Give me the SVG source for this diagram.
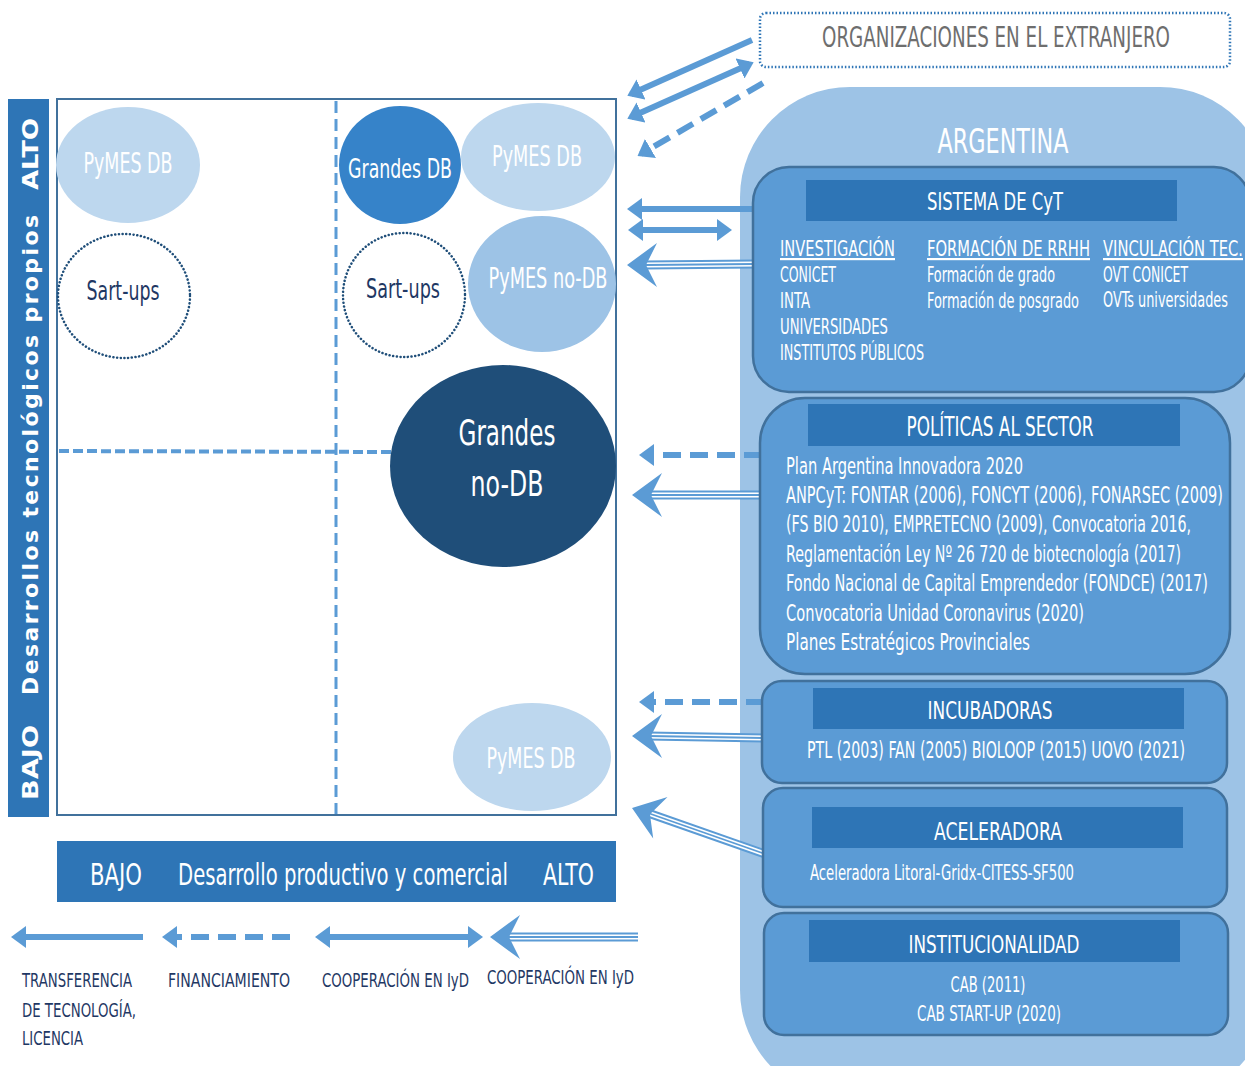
<svg xmlns="http://www.w3.org/2000/svg" xmlns:xlink="http://www.w3.org/1999/xlink" width="1245" height="1066" viewBox="0 0 1245 1066">
<style>
.cn{font-family:"Liberation Sans Narrow","DejaVu Sans Condensed","Liberation Sans",sans-serif;fill:#fff}
.w{fill:#fff}
.dk{fill:#1f3864}
.gr{fill:#6e6e6e}
.ax{font-family:"DejaVu Sans","Liberation Sans",sans-serif;font-weight:bold;fill:#fff}
.box{fill:#5b9bd5;stroke:#41719c;stroke-width:2.5}
.hdr{fill:#2e75b6}
.lt{fill:#bdd7ee}
.dot{fill:#fff;stroke:#1f4e79;stroke-width:2.5;stroke-dasharray:0.1 3.6;stroke-linecap:round}
.ar{fill:none;stroke:#5b9bd5;stroke-width:6}
.ds{stroke-dasharray:18 9}
.t1{fill:none;stroke:#5b9bd5;stroke-width:9}
.t2{fill:none;stroke:#fff;stroke-width:5}
.t3{fill:none;stroke:#5b9bd5;stroke-width:1.8}
</style>
<defs>
<marker id="ah" markerUnits="userSpaceOnUse" markerWidth="15" markerHeight="22" viewBox="0 0 15 22" refX="11" refY="11" orient="auto-start-reverse">
<path d="M0,0 L15,11 L0,22 Z" fill="#5b9bd5"/>
</marker>
<path id="th" d="M0,0 L30,-22 L19,0 L30,22 Z" fill="#5b9bd5"/>
</defs>
<rect width="1245" height="1066" fill="#fff"/>

<!-- Argentina panel -->
<g id="argentina">
<rect x="740" y="87" width="530" height="1013" rx="110" ry="110" fill="#9dc3e6"/>
<text class="cn" x="1003" y="153" font-size="33" text-anchor="middle" textLength="131" lengthAdjust="spacingAndGlyphs">ARGENTINA</text>
</g>

<!-- Organizaciones -->
<g id="org">
<rect x="760" y="13" width="470" height="54" rx="6" fill="#fff" stroke="#2e75b6" stroke-width="2.5" stroke-dasharray="1.5 2"/>
<text class="cn gr" x="996" y="47" font-size="28" text-anchor="middle" textLength="348" lengthAdjust="spacingAndGlyphs">ORGANIZACIONES EN EL EXTRANJERO</text>
</g>

<!-- Connectors -->
<g id="connectors">
<path class="ar" stroke-width="5" d="M752,40 L631,94" marker-end="url(#ah)"/>
<path class="ar" stroke-width="5" d="M631,117 L750,64" marker-start="url(#ah)" marker-end="url(#ah)"/>
<path class="ar ds" stroke-width="5" d="M763,83 L641,154" marker-end="url(#ah)"/>
<path class="ar" d="M755,209 L631,209" marker-end="url(#ah)"/>
<path class="ar" d="M632,230 L728,230" marker-start="url(#ah)" marker-end="url(#ah)"/>
<path class="t1" d="M755,264 L645,265"/><path class="t2" d="M755,264 L645,265"/><path class="t3" d="M755,264 L645,265"/>
<use xlink:href="#th" transform="translate(627,265)"/>
<path class="ar ds" d="M762,455 L643,455" marker-end="url(#ah)"/>
<path class="t1" d="M762,495 L648,495"/><path class="t2" d="M762,495 L648,495"/><path class="t3" d="M762,495 L648,495"/>
<use xlink:href="#th" transform="translate(632,495)"/>
<path class="ar ds" d="M764,702 L643,702" marker-end="url(#ah)"/>
<path class="t1" d="M764,738 L648,736"/><path class="t2" d="M764,738 L648,736"/><path class="t3" d="M764,738 L648,736"/>
<use xlink:href="#th" transform="translate(632,736)"/>
<path class="t1" d="M765,854 L648,813"/><path class="t2" d="M765,854 L648,813"/><path class="t3" d="M765,854 L648,813"/>
<use xlink:href="#th" transform="translate(632,808) rotate(19)"/>
<!-- legend arrows -->
<path class="ar" d="M143,937 L15,937" marker-end="url(#ah)"/>
<path class="ar ds" d="M290,937 L166,937" marker-end="url(#ah)"/>
<path class="ar" d="M319,937 L479,937" marker-start="url(#ah)" marker-end="url(#ah)"/>
<path class="t1" d="M638,937 L506,937"/><path class="t2" d="M638,937 L506,937"/><path class="t3" d="M638,937 L506,937"/>
<use xlink:href="#th" transform="translate(490,937)"/>
</g>

<!-- Sistema de CyT -->
<g id="sistema">
<rect class="box" x="753" y="167" width="497" height="225" rx="36"/>
<rect class="hdr" x="806" y="180" width="371" height="41"/>
<text class="cn" x="995" y="210" font-size="25" text-anchor="middle" textLength="136" lengthAdjust="spacingAndGlyphs">SISTEMA DE CyT</text>
<g class="cn" font-size="22">
<text x="780" y="256" text-decoration="underline" textLength="115" lengthAdjust="spacingAndGlyphs">INVESTIGACIÓN</text>
<text x="780" y="282" textLength="56" lengthAdjust="spacingAndGlyphs">CONICET</text>
<text x="780" y="308" textLength="30" lengthAdjust="spacingAndGlyphs">INTA</text>
<text x="780" y="334" textLength="108" lengthAdjust="spacingAndGlyphs">UNIVERSIDADES</text>
<text x="780" y="360" textLength="144" lengthAdjust="spacingAndGlyphs">INSTITUTOS PÚBLICOS</text>
<text x="927" y="256" text-decoration="underline" textLength="163" lengthAdjust="spacingAndGlyphs">FORMACIÓN DE RRHH</text>
<text x="927" y="282" textLength="128" lengthAdjust="spacingAndGlyphs">Formación de grado</text>
<text x="927" y="308" textLength="152" lengthAdjust="spacingAndGlyphs">Formación de posgrado</text>
<text x="1103" y="256" text-decoration="underline" textLength="140" lengthAdjust="spacingAndGlyphs">VINCULACIÓN TEC.</text>
<text x="1103" y="282" textLength="85" lengthAdjust="spacingAndGlyphs">OVT CONICET</text>
<text x="1103" y="307" textLength="125" lengthAdjust="spacingAndGlyphs">OVTs universidades</text>
</g>
</g>

<!-- Politicas -->
<g id="politicas">
<rect class="box" x="760" y="398" width="470" height="276" rx="45"/>
<rect class="hdr" x="808" y="404" width="372" height="42"/>
<text class="cn" x="1000" y="436" font-size="26" text-anchor="middle" textLength="187" lengthAdjust="spacingAndGlyphs">POLÍTICAS AL SECTOR</text>
<g class="cn" font-size="23">
<text x="786" y="474" textLength="237" lengthAdjust="spacingAndGlyphs">Plan Argentina Innovadora 2020</text>
<text x="786" y="503" textLength="437" lengthAdjust="spacingAndGlyphs">ANPCyT: FONTAR (2006), FONCYT (2006), FONARSEC (2009)</text>
<text x="786" y="532" textLength="405" lengthAdjust="spacingAndGlyphs">(FS BIO 2010), EMPRETECNO (2009), Convocatoria 2016,</text>
<text x="786" y="562" textLength="395" lengthAdjust="spacingAndGlyphs">Reglamentación Ley Nº 26 720 de biotecnología (2017)</text>
<text x="786" y="591" textLength="422" lengthAdjust="spacingAndGlyphs">Fondo Nacional de Capital Emprendedor (FONDCE) (2017)</text>
<text x="786" y="621" textLength="298" lengthAdjust="spacingAndGlyphs">Convocatoria Unidad Coronavirus (2020)</text>
<text x="786" y="650" textLength="244" lengthAdjust="spacingAndGlyphs">Planes Estratégicos Provinciales</text>
</g>
</g>

<!-- Incubadoras -->
<g id="incubadoras">
<rect class="box" x="762" y="681" width="465" height="102" rx="20"/>
<rect class="hdr" x="813" y="688" width="371" height="41"/>
<text class="cn" x="990" y="719" font-size="25" text-anchor="middle" textLength="125" lengthAdjust="spacingAndGlyphs">INCUBADORAS</text>
<text class="cn" x="996" y="758" font-size="23" text-anchor="middle" textLength="378" lengthAdjust="spacingAndGlyphs">PTL (2003) FAN (2005) BIOLOOP (2015) UOVO (2021)</text>
</g>

<!-- Aceleradora -->
<g id="aceleradora">
<rect class="box" x="763" y="788" width="464" height="119" rx="20"/>
<rect class="hdr" x="812" y="807" width="371" height="41"/>
<text class="cn" x="998" y="840" font-size="25" text-anchor="middle" textLength="128" lengthAdjust="spacingAndGlyphs">ACELERADORA</text>
<text class="cn" x="810" y="880" font-size="21" textLength="264" lengthAdjust="spacingAndGlyphs">Aceleradora Litoral-Gridx-CITESS-SF500</text>
</g>

<!-- Institucionalidad -->
<g id="institucionalidad">
<rect class="box" x="764" y="913" width="464" height="122" rx="20"/>
<rect class="hdr" x="809" y="920" width="371" height="42"/>
<text class="cn" x="994" y="953" font-size="25" text-anchor="middle" textLength="171" lengthAdjust="spacingAndGlyphs">INSTITUCIONALIDAD</text>
<text class="cn" x="988" y="992" font-size="22" text-anchor="middle" textLength="75" lengthAdjust="spacingAndGlyphs">CAB (2011)</text>
<text class="cn" x="989" y="1021" font-size="22" text-anchor="middle" textLength="144" lengthAdjust="spacingAndGlyphs">CAB START-UP (2020)</text>
</g>

<!-- Matrix -->
<g id="matrix">
<rect x="57" y="99" width="559" height="716" fill="#fff" stroke="#41719c" stroke-width="2"/>
<line x1="336" y1="101" x2="336" y2="814" stroke="#5b9bd5" stroke-width="3" stroke-dasharray="12 6"/>
<line x1="59" y1="451" x2="395" y2="452" stroke="#5b9bd5" stroke-width="4" stroke-dasharray="10 4"/>
</g>

<!-- Left axis -->
<g id="eje-y">
<rect x="8" y="99" width="41" height="718" fill="#2e75b6"/>
<g transform="translate(38,0) rotate(-90)">
<text class="ax" x="-800" y="0" font-size="22" textLength="75" lengthAdjust="spacingAndGlyphs">BAJO</text>
<text class="ax" x="-695" y="0" font-size="22" textLength="480" lengthAdjust="spacing">Desarrollos tecnológicos propios</text>
<text class="ax" x="-190" y="0" font-size="22" textLength="72" lengthAdjust="spacingAndGlyphs">ALTO</text>
</g>
</g>

<!-- Bottom axis -->
<g id="eje-x">
<rect x="57" y="841" width="559" height="61" fill="#2e75b6"/>
<text class="cn" x="90" y="885" font-size="31" textLength="52" lengthAdjust="spacingAndGlyphs">BAJO</text>
<text class="cn" x="178" y="885" font-size="31" textLength="330" lengthAdjust="spacingAndGlyphs">Desarrollo productivo y comercial</text>
<text class="cn" x="543" y="885" font-size="31" textLength="51" lengthAdjust="spacingAndGlyphs">ALTO</text>
</g>

<!-- Bubbles -->
<g id="pymes-db-1">
<ellipse class="lt" cx="128" cy="165" rx="72" ry="58"/>
<text class="cn" x="128" y="173" font-size="28" text-anchor="middle" textLength="89" lengthAdjust="spacingAndGlyphs">PyMES DB</text>
</g>
<g id="startups-1">
<ellipse class="dot" cx="124" cy="296" rx="66" ry="62"/>
<text class="cn dk" x="123" y="300" font-size="26" text-anchor="middle" textLength="73" lengthAdjust="spacingAndGlyphs">Sart-ups</text>
</g>
<g id="grandes-db">
<ellipse cx="400" cy="165" rx="61" ry="59" fill="#3683c9"/>
<text class="cn" x="400" y="178" font-size="27" text-anchor="middle" textLength="104" lengthAdjust="spacingAndGlyphs">Grandes DB</text>
</g>
<g id="pymes-db-2">
<ellipse class="lt" cx="538" cy="157" rx="77" ry="54"/>
<text class="cn" x="537" y="166" font-size="28" text-anchor="middle" textLength="90" lengthAdjust="spacingAndGlyphs">PyMES DB</text>
</g>
<g id="startups-2">
<ellipse class="dot" cx="404" cy="295" rx="61" ry="62"/>
<text class="cn dk" x="403" y="298" font-size="26" text-anchor="middle" textLength="74" lengthAdjust="spacingAndGlyphs">Sart-ups</text>
</g>
<g id="pymes-nodb">
<ellipse cx="542" cy="284" rx="74" ry="68" fill="#9dc3e6"/>
<text class="cn" x="548" y="288" font-size="28" text-anchor="middle" textLength="119" lengthAdjust="spacingAndGlyphs">PyMES no-DB</text>
</g>
<g id="grandes-nodb">
<ellipse cx="503" cy="466" rx="113" ry="101" fill="#1f4e79"/>
<text class="cn" x="507" y="445" font-size="36" text-anchor="middle" textLength="97" lengthAdjust="spacingAndGlyphs">Grandes</text>
<text class="cn" x="507" y="496" font-size="36" text-anchor="middle" textLength="73" lengthAdjust="spacingAndGlyphs">no-DB</text>
</g>
<g id="pymes-db-3">
<ellipse class="lt" cx="532" cy="757" rx="79" ry="54"/>
<text class="cn" x="531" y="768" font-size="28" text-anchor="middle" textLength="89" lengthAdjust="spacingAndGlyphs">PyMES DB</text>
</g>

<!-- Legend -->
<g id="legend" class="cn dk" font-size="20">
<text x="22" y="987" textLength="110" lengthAdjust="spacingAndGlyphs">TRANSFERENCIA</text>
<text x="22" y="1017" textLength="114" lengthAdjust="spacingAndGlyphs">DE TECNOLOGÍA,</text>
<text x="22" y="1045" textLength="61" lengthAdjust="spacingAndGlyphs">LICENCIA</text>
<text x="168" y="987" textLength="122" lengthAdjust="spacingAndGlyphs">FINANCIAMIENTO</text>
<text x="322" y="987" textLength="147" lengthAdjust="spacingAndGlyphs">COOPERACIÓN EN IyD</text>
<text x="487" y="984" textLength="147" lengthAdjust="spacingAndGlyphs">COOPERACIÓN EN IyD</text>
</g>
</svg>
